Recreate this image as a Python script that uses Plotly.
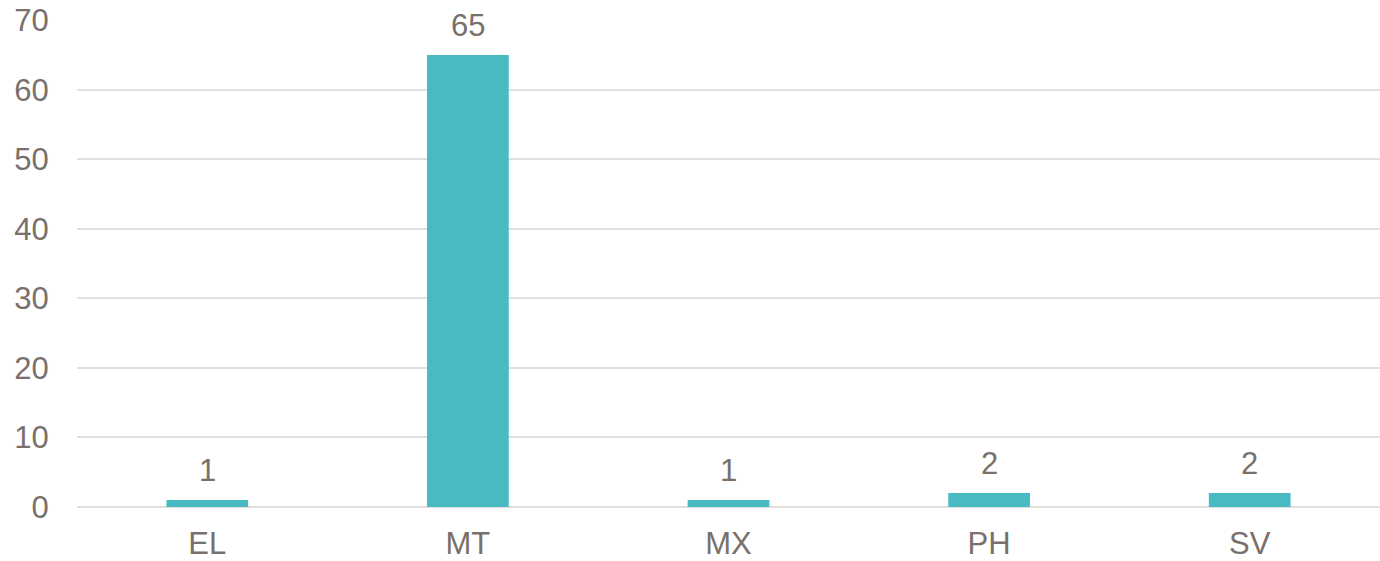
import plotly.graph_objects as go

categories = ["EL", "MT", "MX", "PH", "SV"]
values = [1, 65, 1, 2, 2]
y_ticks = [0, 10, 20, 30, 40, 50, 60, 70]

text_color = "#7a706b"
font_family = "Liberation Sans, Arial"
fs = 31

fig = go.Figure(go.Bar(
    x=categories, y=values,
    marker=dict(color="#4ABAC2", line=dict(width=0)),
    width=0.3135,
))
for c, v in zip(categories, values):
    fig.add_annotation(x=c, y=v, text=str(v), showarrow=False, yanchor="bottom",
                       yshift=10, font=dict(family=font_family, size=fs, color=text_color))

fig.update_layout(
    width=1380, height=561,
    margin=dict(l=77, r=0, t=20, b=54),
    paper_bgcolor="white", plot_bgcolor="white",
    showlegend=False,
    font=dict(family=font_family, size=fs, color=text_color),
)
fig.update_xaxes(showgrid=False, showline=False, ticks="outside", ticklen=9,
                 tickcolor="rgba(0,0,0,0)", automargin=False,
                 tickfont=dict(size=fs, color=text_color))
fig.update_yaxes(range=[0, 70.05], tickvals=y_ticks, showgrid=True, gridcolor="#e3dfdf", gridwidth=2,
                 zeroline=True, zerolinecolor="#e3dfdf", zerolinewidth=2, showline=False,
                 ticks="outside", ticklen=21, tickcolor="rgba(0,0,0,0)", automargin=False,
                 tickfont=dict(size=fs, color=text_color))
fig.write_html("out.html")
